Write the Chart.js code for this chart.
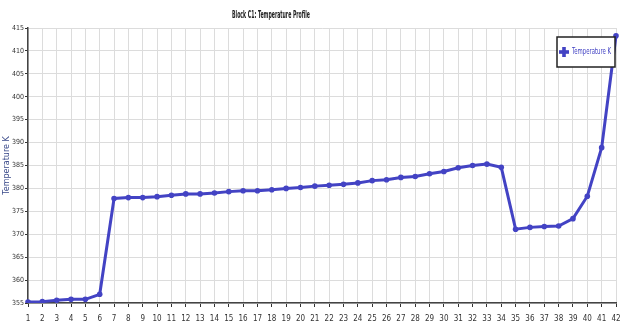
<!DOCTYPE html>
<html>
<head>
<meta charset="utf-8">
<script src="https://cdn.jsdelivr.net/npm/chart.js@4/dist/chart.umd.min.js"></script>
<style>
  html, body { margin: 0; padding: 0; background: #fff; }
  #wrap { width: 620px; height: 334px; }
</style>
</head>
<body>
<div id="wrap"><canvas id="chart" width="620" height="334"></canvas></div>
<script>
// ===== Data =====
const nodes = [];
for (let i = 1; i <= 42; i++) nodes.push(String(i));

const tempK = [
  355.2, 355.3, 355.6, 355.8, 355.8, 356.9, 377.8, 378.0, 378.0, 378.2,
  378.5, 378.8, 378.8, 379.0, 379.3, 379.5, 379.5, 379.7, 380.0, 380.2,
  380.5, 380.7, 380.9, 381.2, 381.7, 381.9, 382.4, 382.6, 383.2, 383.7,
  384.5, 385.0, 385.3, 384.6, 371.1, 371.5, 371.7, 371.8, 373.4, 378.3,
  388.9, 413.3
];

const chartTitle = "Block C1: Temperature Profile";
const yMin = 355, yMax = 415, yStep = 5;
const lineColor = "#4343c4";
const narrow = "'Liberation Sans Narrow', 'DejaVu Sans Condensed', sans-serif";

// draw text squeezed to a given width (the original uses a very condensed face)
function squeezedText(ctx, text, x, y, width, align) {
  const w = ctx.measureText(text).width;
  const k = Math.min(1, width / w);
  ctx.save();
  ctx.translate(x, y);
  ctx.scale(k, 1);
  ctx.textAlign = align;
  ctx.fillText(text, 0, 0);
  ctx.restore();
}

// ===== Title + legend box =====
const extras = {
  id: "extras",
  afterDraw(chart) {
    const ctx = chart.ctx;
    const area = chart.chartArea;
    ctx.save();
    // title
    ctx.fillStyle = "#222";
    ctx.font = "bold 10px " + narrow;
    ctx.textBaseline = "middle";
    squeezedText(ctx, chartTitle, 271, 15, 78, "center");

    // legend
    const x = 557, y = area.top + 9, w = 58, h = 30;
    ctx.fillStyle = "#fff";
    ctx.fillRect(x, y, w, h);
    ctx.strokeStyle = "#222";
    ctx.lineWidth = 1.5;
    ctx.strokeRect(x, y, w, h);
    ctx.fillStyle = lineColor;
    const cx = x + 7, cy = y + h / 2;
    ctx.fillRect(cx - 5, cy - 1.8, 10, 3.6);
    ctx.fillRect(cx - 1.8, cy - 5, 3.6, 10);
    ctx.font = "9px " + narrow;
    squeezedText(ctx, chart.data.datasets[0].label, x + 15, cy, 39, "left");
    ctx.restore();
  }
};

new Chart(document.getElementById("chart").getContext("2d"), {
  type: "line",
  data: {
    labels: nodes,
    datasets: [{
      label: "Temperature K",
      data: tempK,
      borderColor: lineColor,
      backgroundColor: lineColor,
      borderWidth: 3,
      pointStyle: "circle",
      pointRadius: 2.8,
      pointBorderWidth: 0,
      tension: 0,
      fill: false
    }]
  },
  options: {
    responsive: false,
    animation: false,
    layout: { padding: { left: 0, right: 3, top: 28, bottom: 0 } },
    plugins: {
      legend: { display: false },
      tooltip: { enabled: false },
      title: { display: false }
    },
    scales: {
      x: {
        offset: false,
        grid: { color: "#dcdcdc", lineWidth: 1, tickLength: 4, tickColor: "#333" },
        border: { color: "#444", width: 1.5 },
        ticks: {
          color: "#333", padding: 7, autoSkip: false, maxRotation: 0,
          font: { family: narrow, size: 8 }
        },
        afterFit(scale) {
          scale.height = 31;
          scale.paddingLeft = 0;
          scale.paddingRight = 0;
        }
      },
      y: {
        min: yMin,
        max: yMax,
        grid: { color: "#dcdcdc", lineWidth: 1, tickLength: 3, tickColor: "#333" },
        border: { color: "#444", width: 1.5 },
        ticks: {
          stepSize: yStep, color: "#333", padding: 1,
          font: { family: narrow, size: 7 }
        },
        title: {
          display: true,
          text: "Temperature K",
          color: "#3a4a8a",
          font: { family: "'DejaVu Sans', sans-serif", size: 8 },
          padding: { top: 2, bottom: 0 }
        },
        afterFit(scale) {
          scale.width = 28;
          scale.paddingTop = 0;
          scale.paddingBottom = 0;
        }
      }
    }
  },
  plugins: [extras]
});
</script>
</body>
</html>
